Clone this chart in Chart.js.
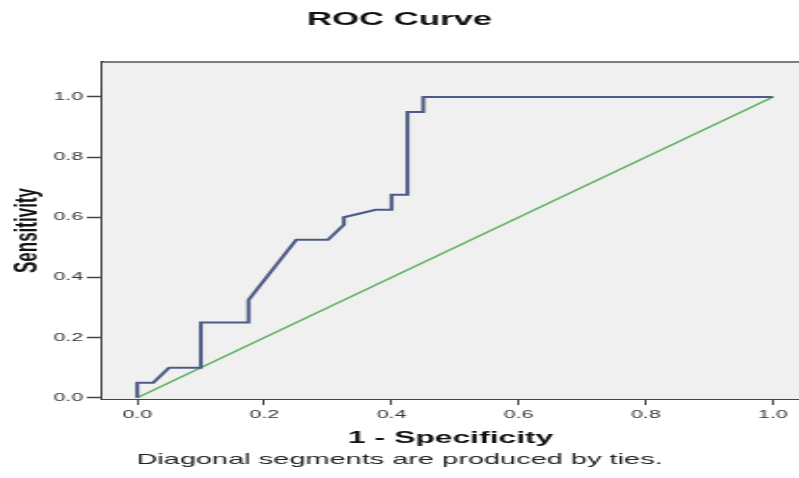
<!DOCTYPE html>
<html>
  <head>
    <meta charset="UTF-8" />
    <title>ROC Curve</title>
    <style>
      body { margin: 0; background: #fff; }
    </style>
  </head>
  <body>
    <!-- the source picture is stretched sideways, so the canvas is drawn narrow and shown wide -->
    <canvas id="roc" width="414" height="478" style="width:799px;height:478px"></canvas>
    <script src="https://cdn.jsdelivr.net/npm/chart.js@4/dist/chart.umd.min.js"></script>
    <script>
      // ROC points (1 - specificity, sensitivity)
      const fpr = [0, 0, 0.025, 0.05, 0.10, 0.10, 0.175, 0.175, 0.25, 0.30, 0.325, 0.325, 0.375, 0.40, 0.40, 0.425, 0.425, 0.45, 0.45, 1.0];
      const tpr = [0, 0.05, 0.05, 0.10, 0.10, 0.25, 0.25, 0.325, 0.525, 0.525, 0.575, 0.60, 0.625, 0.625, 0.675, 0.675, 0.95, 0.95, 1.0, 1.0];
      // reference line
      const refX = [0, 1];
      const refY = [0, 1];
      const xTicks = [0, 0.2, 0.4, 0.6, 0.8, 1.0];
      const yTicks = [0, 0.2, 0.4, 0.6, 0.8, 1.0];

      const FONT = "'Liberation Sans', Arial, sans-serif";

      const plotBox = {
        id: "plotBox",
        beforeDatasetsDraw(chart) {
          const { ctx, chartArea: a } = chart;
          ctx.save();
          ctx.fillStyle = "#f0f0f0";
          ctx.fillRect(a.left, a.top, a.right - a.left, a.bottom - a.top);
          ctx.strokeStyle = "#555";
          ctx.lineWidth = 1.5;
          ctx.beginPath();
          ctx.moveTo(a.left, a.top);
          ctx.lineTo(a.right, a.top);
          ctx.stroke();
          ctx.restore();
        }
      };

      const ctx = document.getElementById("roc").getContext("2d");
      const rocChart = new Chart(ctx, {
        type: "scatter",
        data: {
          datasets: [
            {
              label: "ROC",
              data: fpr.map((x, i) => ({ x: x, y: tpr[i] })),
              showLine: true,
              borderColor: "#4d5b86",
              borderWidth: 2,
              pointRadius: 0,
              tension: 0
            },
            {
              label: "Reference Line",
              data: refX.map((x, i) => ({ x: x, y: refY[i] })),
              showLine: true,
              borderColor: "#5caf5c",
              borderWidth: 1.4,
              pointRadius: 0
            }
          ]
        },
        options: {
          responsive: false,
          animation: false,
          devicePixelRatio: 1,
          layout: { padding: 0 },
          plugins: {
            legend: { display: false },
            tooltip: { enabled: false },
            title: {
              display: true,
              text: "ROC Curve",
              color: "#111",
              font: { family: FONT, size: 18, weight: "bold" },
              padding: { top: 9, bottom: 31.4 }
            },
            subtitle: {
              display: true,
              position: "bottom",
              text: "Diagonal segments are produced by ties.",
              color: "#222",
              font: { family: FONT, size: 15 },
              padding: { top: 2, bottom: 9 }
            }
          },
          scales: {
            x: {
              type: "linear",
              min: -0.055,
              max: 1.041,
              afterBuildTicks(scale) {
                scale.ticks = xTicks.map(v => ({ value: v }));
              },
              afterFit(scale) {
                scale.height = 50;
              },
              ticks: {
                color: "#333",
                font: { family: FONT, size: 11 },
                padding: 3,
                maxRotation: 0,
                callback: v => v.toFixed(1)
              },
              grid: {
                drawOnChartArea: false,
                tickLength: 6,
                tickColor: "#444",
                tickWidth: 1
              },
              border: { display: true, color: "#444", width: 2 },
              title: {
                display: true,
                text: "1 - Specificity",
                color: "#111",
                font: { family: FONT, size: 16.5, weight: "bold" },
                padding: { top: 0, bottom: 1 }
              }
            },
            y: {
              type: "linear",
              min: -0.004,
              max: 1.116,
              afterBuildTicks(scale) {
                scale.ticks = yTicks.map(v => ({ value: v }));
              },
              afterFit(scale) {
                scale.width = 53;
              },
              ticks: {
                color: "#333",
                font: { family: FONT, size: 11 },
                padding: 2,
                callback: v => v.toFixed(1)
              },
              grid: {
                drawOnChartArea: false,
                tickLength: 8,
                tickColor: "#444",
                tickWidth: 1.5
              },
              border: { display: true, color: "#444", width: 1.8 },
              title: {
                display: true,
                text: "Sensitivity",
                color: "#111",
                font: { family: FONT, size: 17, weight: "bold" },
                padding: { top: 4, bottom: 0 }
              }
            }
          }
        },
        plugins: [plotBox]
      });
    </script>
  </body>
</html>
